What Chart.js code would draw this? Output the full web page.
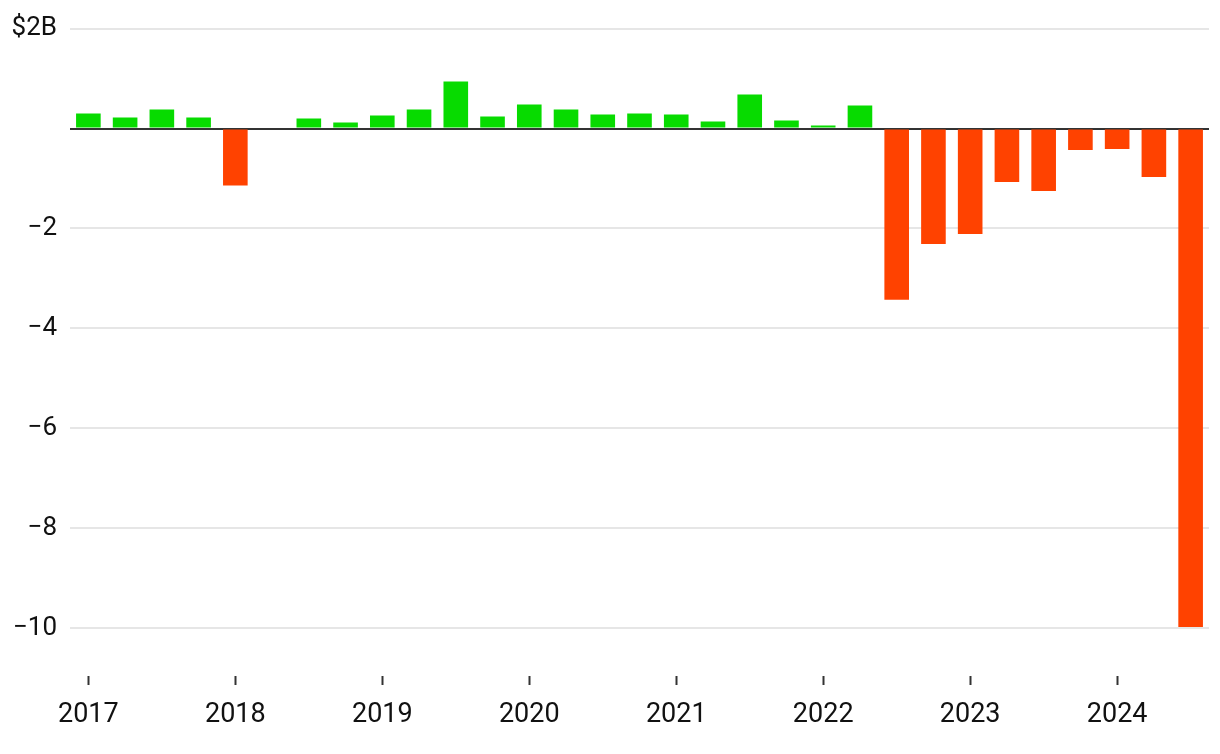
<!DOCTYPE html>
<html>
<head>
<meta charset="utf-8">
<script src="https://cdn.jsdelivr.net/npm/chart.js@4"></script>
<style>
    html, body { margin: 0; padding: 0; background: #ffffff; }
    #wrap { width: 1220px; height: 754px; position: relative; }
</style>
</head>
<body>
<div id="wrap"><canvas id="barChart"></canvas></div>
<script>
/* ==============================================
   DADOS DO GRÁFICO
   ============================================== */
const quarters = [
    '2017 Q1', '2017 Q2', '2017 Q3', '2017 Q4',
    '2018 Q1', '2018 Q2', '2018 Q3', '2018 Q4',
    '2019 Q1', '2019 Q2', '2019 Q3', '2019 Q4',
    '2020 Q1', '2020 Q2', '2020 Q3', '2020 Q4',
    '2021 Q1', '2021 Q2', '2021 Q3', '2021 Q4',
    '2022 Q1', '2022 Q2', '2022 Q3', '2022 Q4',
    '2023 Q1', '2023 Q2', '2023 Q3', '2023 Q4',
    '2024 Q1', '2024 Q2', '2024 Q3'
];

// billions of dollars per quarter
const netValues = [
    0.30, 0.22, 0.38, 0.22,
    -1.14, null, 0.20, 0.12,
    0.26, 0.38, 0.94, 0.24,
    0.48, 0.38, 0.28, 0.30,
    0.28, 0.14, 0.68, 0.16,
    0.06, 0.46, -3.43, -2.31,
    -2.11, -1.07, -1.25, -0.43,
    -0.41, -0.97, -9.98
];

const yTickValues = [2, -2, -4, -6, -8, -10];
const yTickLabels = ['$2B', '\u22122', '\u22124', '\u22126', '\u22128', '\u221210'];

const GREEN = '#07db00';
const RED = '#ff4200';
const FONT = 'Roboto, "Liberation Sans", sans-serif';

/* ==============================================
   INICIALIZAÇÃO DO GRÁFICO
   ============================================== */
let meuGraficoBarra;

function inicializarGrafico() {
    const ctx = document.getElementById('barChart').getContext('2d');
    meuGraficoBarra = new Chart(ctx, {
        type: 'bar',
        data: {
            labels: quarters,
            datasets: [{
                data: netValues,
                backgroundColor: netValues.map(v => (v < 0 ? RED : GREEN)),
                borderWidth: 0,
                categoryPercentage: 1,
                barPercentage: 0.67
            }]
        },
        options: {
            responsive: true,
            maintainAspectRatio: false,
            animation: false,
            layout: { padding: { top: 28, right: 11, bottom: 0, left: 0 } },
            plugins: { legend: { display: false }, tooltip: { enabled: false } },
            scales: {
                x: {
                    offset: true,
                    afterBuildTicks: (scale) => {
                        scale.ticks = scale.ticks.filter(t => quarters[t.value].endsWith('Q1'));
                    },
                    afterFit: (scale) => { scale.height = 78; },
                    border: { display: false },
                    grid: {
                        offset: false,
                        drawOnChartArea: false,
                        drawTicks: true,
                        tickLength: 9,
                        tickWidth: 2,
                        tickColor: '#333333'
                    },
                    ticks: {
                        autoSkip: false,
                        maxRotation: 0,
                        padding: 14,
                        color: '#111111',
                        font: { family: FONT, size: 27 },
                        callback: (value) => quarters[value].slice(0, 4)
                    }
                },
                y: {
                    min: -10.96,
                    max: 2,
                    afterFit: (scale) => { scale.width = 70; },
                    border: { display: false },
                    grid: {
                        drawTicks: false,
                        lineWidth: 2,
                        color: (c) => (c.tick && c.tick.value === 0 ? '#333333' : '#e6e6e6')
                    },
                    ticks: {
                        stepSize: 2,
                        includeBounds: false,
                        padding: 13,
                        color: '#111111',
                        font: { family: FONT, size: 26 },
                        callback: (value) => {
                            const i = yTickValues.indexOf(value);
                            if (value === 0) return '';
                            return i >= 0 ? yTickLabels[i] : null;
                        }
                    }
                }
            }
        }
    });
}

window.onload = () => {
    inicializarGrafico();
};
</script>
</body>
</html>
